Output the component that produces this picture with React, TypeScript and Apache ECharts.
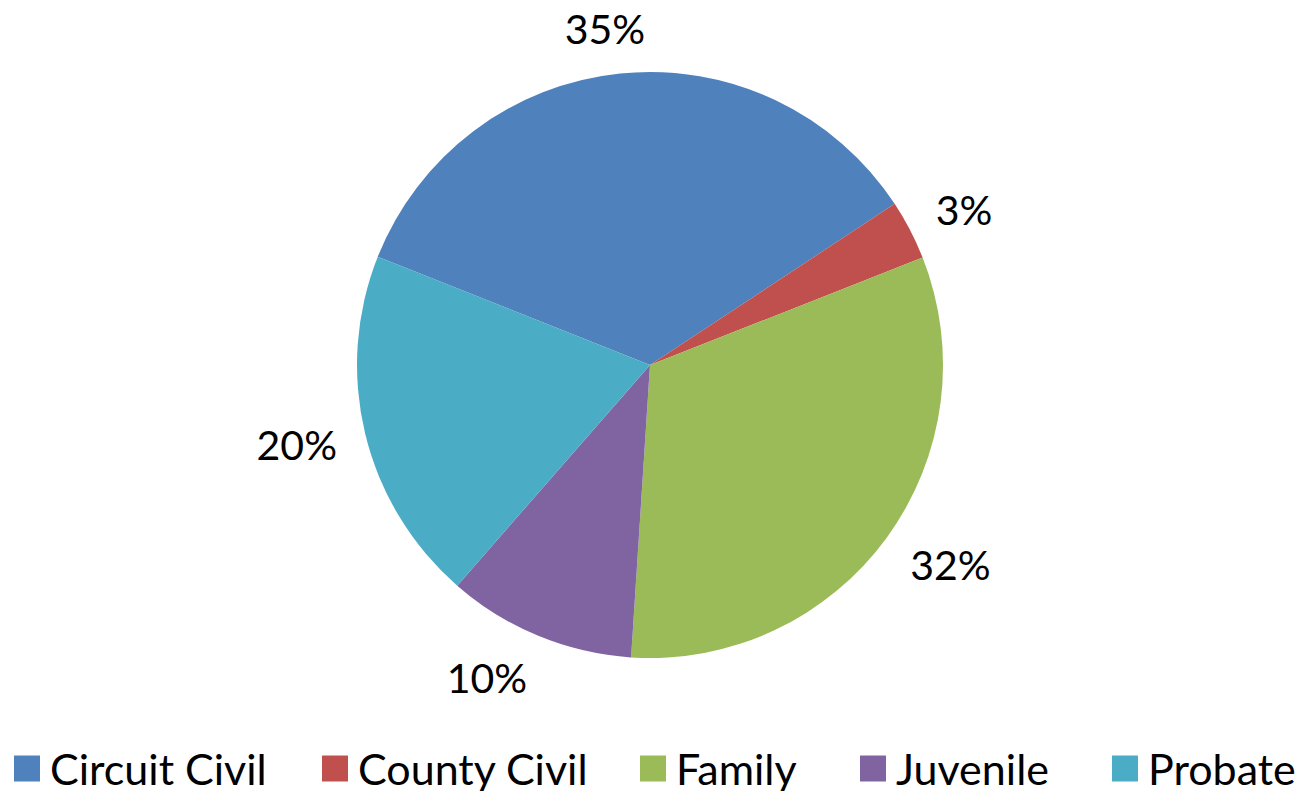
import React, { useEffect, useRef } from "react";
import * as echarts from "echarts";

const categories = ["Circuit Civil", "County Civil", "Family", "Juvenile", "Probate"];
const values = [34.7, 3.3, 32.0, 10.4, 19.6];
const colors = ["#4F81BD", "#C0504D", "#9BBB59", "#8064A2", "#4BACC6"];
const legendLefts = [14, 322, 640, 860, 1112];

const FONT = "Lato, 'Open Sans', sans-serif";
const CX = 650;
const CY = 365;
const R = 293;
const GAP = 29;

export default function App() {
  const ref = useRef<HTMLDivElement>(null);
  useEffect(() => {
    if (!ref.current) return;
    const chart = echarts.init(ref.current, undefined, { renderer: "svg" });
    chart.setOption({
      animation: false,
      backgroundColor: "#ffffff",
      color: colors,
      legend: categories.map((name, i) => ({
        data: [name],
        left: legendLefts[i],
        top: 747,
        padding: 0,
        itemWidth: 26,
        itemHeight: 26,
        icon: "rect",
        selectedMode: false,
        textStyle: {
          fontFamily: FONT,
          fontSize: 43,
          lineHeight: 34,
          color: "#000",
          padding: [0, 0, 0, 5],
        },
      })),
      series: [
        {
          type: "pie",
          center: [CX, CY],
          radius: R,
          startAngle: 158.3,
          clockwise: true,
          avoidLabelOverlap: false,
          silent: true,
          data: categories.map((name, i) => ({ name, value: values[i] })),
          itemStyle: { borderWidth: 0 },
          label: {
            show: true,
            position: "inside",
            color: "#000",
            fontFamily: FONT,
            fontSize: 41,
            formatter: (p: any) => Math.round(p.percent) + "%",
          },
          labelLine: { show: false },
          labelLayout: (params: any) => {
            const lr = params.labelRect;
            const lx = lr.x + lr.width / 2;
            const ly = lr.y + lr.height / 2;
            let ux = lx - CX;
            let uy = ly - CY;
            const len = Math.sqrt(ux * ux + uy * uy) || 1;
            ux /= len;
            uy /= len;
            const hw = lr.width / 2;
            const hh = 16;
            const sx = Math.max(-1, Math.min(1, 3 * ux));
            return {
              x: CX + ux * (R + GAP) + hw * sx,
              y: CY + uy * (R + GAP) + hh * uy,
              align: "center",
              verticalAlign: "middle",
            };
          },
        },
      ],
    });
    return () => chart.dispose();
  }, []);
  return (
    <div
      ref={ref}
      style={{ position: "fixed", left: 0, top: 0, width: 1306, height: 791 }}
    />
  );
}
